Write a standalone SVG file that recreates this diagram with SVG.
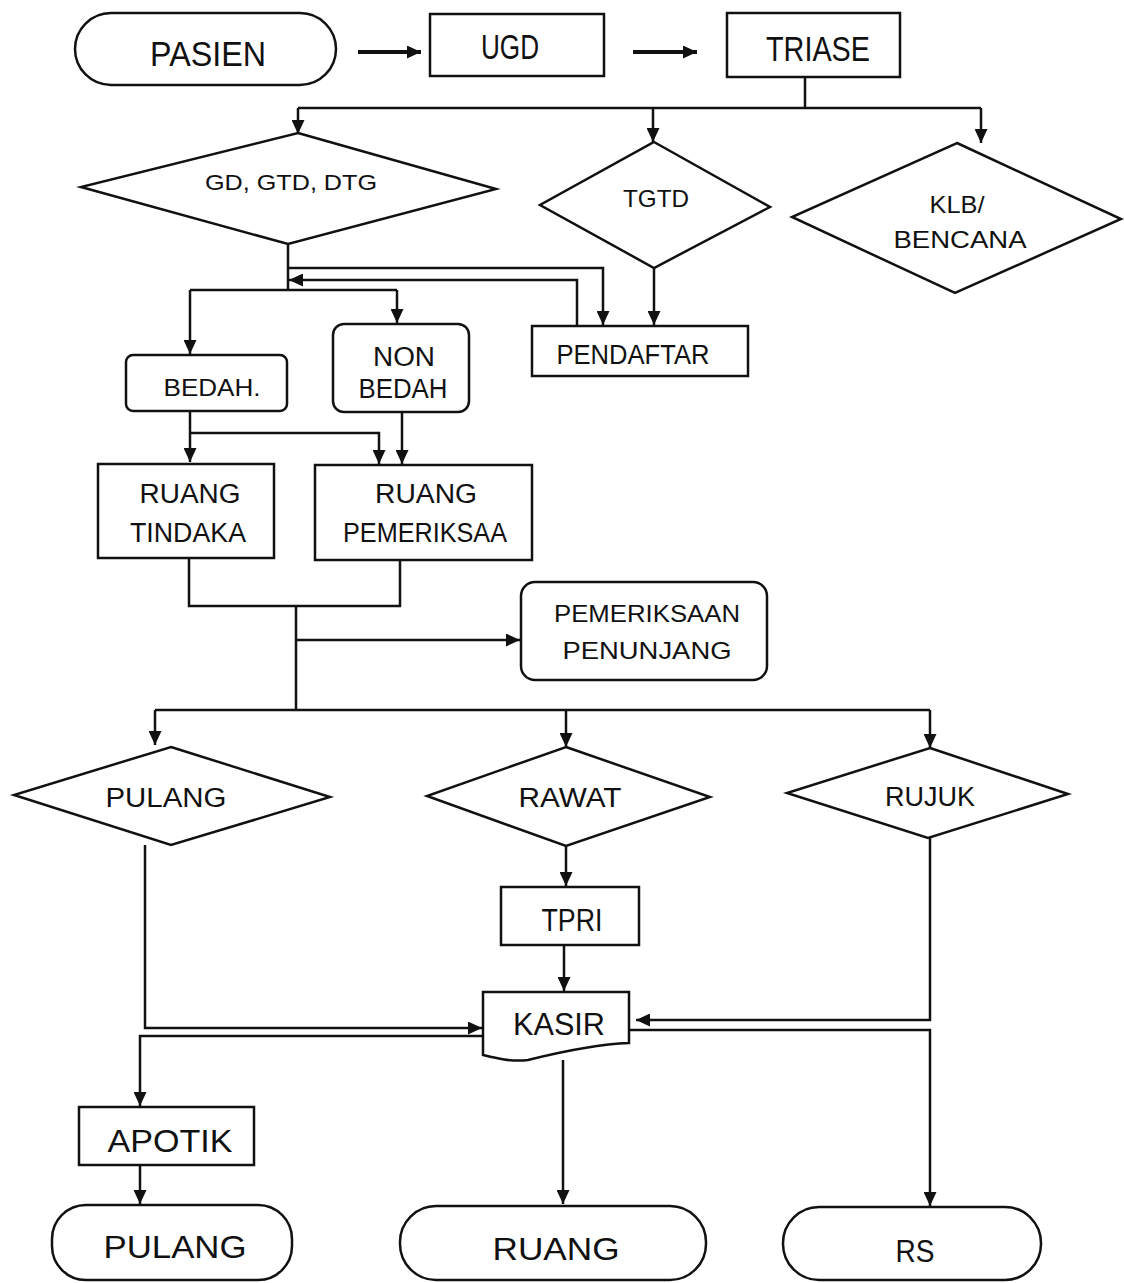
<svg xmlns="http://www.w3.org/2000/svg" width="1124" height="1283" viewBox="0 0 1124 1283">
  <style>
    .shape { fill: #ffffff; stroke: #111111; stroke-width: 2.5; }
    .wire { fill: none; stroke: #111111; stroke-width: 2.5; }
    .arrow { fill: none; stroke: #111111; stroke-width: 2.5; marker-end: url(#head); }
    .bold { stroke-width: 4; }
    text { font-family: "Liberation Sans", Arial, sans-serif; fill: #111111; text-anchor: middle; }
    .xl { font-size: 35px; }
    .lg { font-size: 31px; }
    .md { font-size: 27px; }
    .sm { font-size: 24px; }
    .xs { font-size: 22px; }
  </style>
  <defs>
    <marker id="head" markerUnits="userSpaceOnUse" markerWidth="14" markerHeight="13" refX="14" refY="6.5" orient="auto">
      <path d="M0,0 L14,6.5 L0,13 z" fill="#111111"/>
    </marker>
  </defs>
  <rect width="1124" height="1283" fill="#ffffff"/>

  <!-- connectors -->
  <g id="connectors">
    <path class="arrow bold" d="M358,52 H421"/>
    <path class="arrow bold" d="M633,52 H697"/>
    <path class="wire" d="M805,77 V108 M298,108 H981"/>
    <path class="arrow" d="M298,108 V134"/>
    <path class="arrow" d="M653,108 V142"/>
    <path class="arrow" d="M981,108 V143"/>

    <path class="wire" d="M288,244 V290 M190,290 H397"/>
    <path class="arrow" d="M190,290 V354"/>
    <path class="arrow" d="M397,290 V323"/>
    <path class="arrow" d="M288,268 H603 V325"/>
    <path class="arrow" d="M577,326 V280 H289"/>
    <path class="arrow" d="M654,268 V325"/>

    <path class="arrow" d="M190,411 V462"/>
    <path class="arrow" d="M190,433 H379 V464"/>
    <path class="arrow" d="M402,412 V464"/>

    <path class="wire" d="M189,558 V606 H400 V560 M296,606 V710 M155,710 H930"/>
    <path class="arrow" d="M296,640 H520"/>
    <path class="arrow" d="M155,710 V745"/>
    <path class="arrow" d="M566,710 V747"/>
    <path class="arrow" d="M930,710 V748"/>

    <path class="arrow" d="M566,846 V886"/>
    <path class="arrow" d="M564,945 V991"/>
    <path class="arrow" d="M145,845 V1028 H482"/>
    <path class="arrow" d="M930,838 V1020 H636"/>

    <path class="arrow" d="M483,1036 H140 V1106"/>
    <path class="arrow" d="M140,1165 V1204"/>
    <path class="arrow" d="M563,1060 V1204"/>
    <path class="arrow" d="M630,1030 H930 V1206"/>
  </g>

  <!-- top row -->
  <g id="pasien">
    <rect class="shape" x="75" y="13" width="261" height="72" rx="36"/>
    <text class="xl" x="208" y="66" textLength="116" lengthAdjust="spacingAndGlyphs">PASIEN</text>
  </g>
  <g id="ugd">
    <rect class="shape" x="430" y="14" width="174" height="62"/>
    <text class="xl" x="510" y="59" textLength="58" lengthAdjust="spacingAndGlyphs">UGD</text>
  </g>
  <g id="triase">
    <rect class="shape" x="727" y="13" width="173" height="64"/>
    <text class="xl" x="818" y="61" textLength="104" lengthAdjust="spacingAndGlyphs">TRIASE</text>
  </g>

  <!-- triage decisions -->
  <g id="gd-gtd-dtg">
    <polygon class="shape" points="298,133 496,189 288,244 81,187"/>
    <text class="xs" x="291" y="190" textLength="172" lengthAdjust="spacingAndGlyphs">GD, GTD, DTG</text>
  </g>
  <g id="tgtd">
    <polygon class="shape" points="654,142 770,207 654,268 540,205"/>
    <text class="sm" x="656" y="207" textLength="66" lengthAdjust="spacingAndGlyphs">TGTD</text>
  </g>
  <g id="klb-bencana">
    <polygon class="shape" points="957,143 1121,219 955,293 792,217"/>
    <text class="sm" x="957" y="213" textLength="55" lengthAdjust="spacingAndGlyphs">KLB/</text>
    <text class="sm" x="960" y="248" textLength="133" lengthAdjust="spacingAndGlyphs">BENCANA</text>
  </g>

  <g id="pendaftar">
    <rect class="shape" x="532" y="326" width="216" height="50"/>
    <text class="md" x="633" y="364" textLength="153" lengthAdjust="spacingAndGlyphs">PENDAFTAR</text>
  </g>

  <!-- treatment paths -->
  <g id="bedah">
    <rect class="shape" x="126" y="355" width="161" height="56" rx="7"/>
    <text class="sm" x="212" y="396" textLength="97" lengthAdjust="spacingAndGlyphs">BEDAH.</text>
  </g>
  <g id="non-bedah">
    <rect class="shape" x="333" y="324" width="136" height="88" rx="11"/>
    <text class="md" x="404" y="366" textLength="62" lengthAdjust="spacingAndGlyphs">NON</text>
    <text class="md" x="403" y="398" textLength="89" lengthAdjust="spacingAndGlyphs">BEDAH</text>
  </g>
  <g id="ruang-tindakan">
    <rect class="shape" x="98" y="464" width="176" height="94"/>
    <text class="md" x="190" y="503" textLength="101" lengthAdjust="spacingAndGlyphs">RUANG</text>
    <text class="md" x="188" y="542" textLength="116" lengthAdjust="spacingAndGlyphs">TINDAKA</text>
  </g>
  <g id="ruang-pemeriksaan">
    <rect class="shape" x="315" y="465" width="217" height="95"/>
    <text class="md" x="426" y="503" textLength="102" lengthAdjust="spacingAndGlyphs">RUANG</text>
    <text class="md" x="425" y="542" textLength="164" lengthAdjust="spacingAndGlyphs">PEMERIKSAA</text>
  </g>
  <g id="pemeriksaan-penunjang">
    <rect class="shape" x="521" y="582" width="246" height="98" rx="14"/>
    <text class="sm" x="647" y="622" textLength="186" lengthAdjust="spacingAndGlyphs">PEMERIKSAAN</text>
    <text class="sm" x="647" y="659" textLength="169" lengthAdjust="spacingAndGlyphs">PENUNJANG</text>
  </g>

  <!-- outcomes -->
  <g id="pulang-decision">
    <polygon class="shape" points="171,747 330,797 171,845 14,795"/>
    <text class="md" x="166" y="807" textLength="121" lengthAdjust="spacingAndGlyphs">PULANG</text>
  </g>
  <g id="rawat">
    <polygon class="shape" points="566,747 710,797 566,846 427,796"/>
    <text class="md" x="570" y="807" textLength="103" lengthAdjust="spacingAndGlyphs">RAWAT</text>
  </g>
  <g id="rujuk">
    <polygon class="shape" points="930,748 1068,794 928,838 787,793"/>
    <text class="md" x="930" y="806" textLength="90" lengthAdjust="spacingAndGlyphs">RUJUK</text>
  </g>

  <g id="tpri">
    <rect class="shape" x="501" y="887" width="138" height="58"/>
    <text class="lg" x="572" y="931" textLength="61" lengthAdjust="spacingAndGlyphs">TPRI</text>
  </g>
  <g id="kasir">
    <path class="shape" d="M483,992 H629 V1043 C600,1044 560,1052 528,1060 C510,1062 495,1058 483,1055 Z"/>
    <text class="lg" x="559" y="1035" textLength="92" lengthAdjust="spacingAndGlyphs">KASIR</text>
  </g>
  <g id="apotik">
    <rect class="shape" x="79" y="1107" width="175" height="58"/>
    <text class="lg" x="170" y="1152" textLength="125" lengthAdjust="spacingAndGlyphs">APOTIK</text>
  </g>

  <!-- end points -->
  <g id="pulang">
    <rect class="shape" x="52" y="1205" width="240" height="75" rx="34"/>
    <text class="lg" x="175" y="1258" textLength="143" lengthAdjust="spacingAndGlyphs">PULANG</text>
  </g>
  <g id="ruang">
    <rect class="shape" x="400" y="1206" width="306" height="74" rx="36"/>
    <text class="lg" x="556" y="1260" textLength="127" lengthAdjust="spacingAndGlyphs">RUANG</text>
  </g>
  <g id="rs">
    <rect class="shape" x="783" y="1207" width="258" height="73" rx="36"/>
    <text class="lg" x="915" y="1262" textLength="39" lengthAdjust="spacingAndGlyphs">RS</text>
  </g>
</svg>
